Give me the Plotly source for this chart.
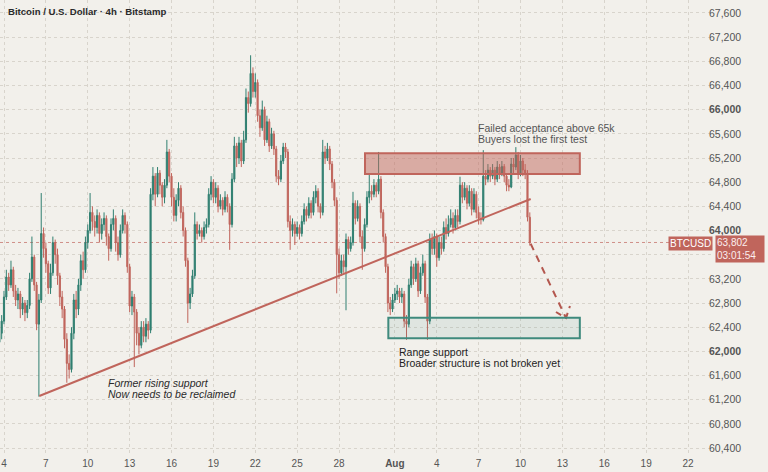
import pandas as pd
import plotly.graph_objects as go

# ---------------- data ----------------
start_time = "2024-07-03 16:00"   # first 4h candle

opens = [62150, 62300, 62500, 62900, 63230, 63100, 63350, 63000, 62850, 62950,
         62700, 62800, 62640, 62760, 63200, 63560, 63100, 62450, 62850, 63950,
         63700, 63450, 63050, 63300, 63800, 63600, 63250, 62900, 62700, 62200,
         61800, 61700, 62300, 62850, 62700, 63100, 63500, 63350, 63800, 64000,
         64300, 64150, 64050, 64250, 63950, 64100, 64200, 63900, 63700, 64100,
         64200, 63800, 63600, 64000, 64250, 64100, 63400, 62750, 62900, 62650,
         62300, 62100, 62400, 62250, 62450, 62350, 64600, 64900, 64600, 64950,
         64750, 64550, 64750, 65300, 64900, 64550, 64250, 64500, 64700, 64300,
         64000, 63500, 62800, 62950, 63250, 64100, 63950, 64000, 63900, 64050,
         64100, 64600, 64800, 64550, 64700, 64400, 64500, 64350, 64550, 64400,
         64100, 64850, 65400, 65200, 65450, 65150, 65500, 66200, 66100, 66600,
         66300, 66450, 65900, 65700, 66000, 65500, 65800, 65400, 65600, 65350,
         64900, 64850, 65150, 65380, 65300, 64150, 64000, 64100, 63950, 64050,
         63950, 64150, 64350, 64250, 64450, 64300, 64550, 64650, 64400, 64300,
         65300, 65200, 65350, 65100, 64800, 64500, 63600, 63300, 63500, 63400,
         63850, 63700, 63800, 64450, 64200, 64400, 63900, 63700, 64100, 64550,
         64650, 64600, 64750, 64650, 64850, 64300, 63900, 63400, 62800, 62700,
         62850, 62950, 63000, 62900, 62950, 62500, 62450, 63100, 63400, 63200,
         63450, 63000, 63300, 63450, 62900, 62500, 63850, 63700, 63900, 63550,
         63800, 63700, 64050, 63950, 64100, 64200, 64050, 64250, 64150, 64750,
         64550, 64700, 64450, 64650, 64350, 64600, 64300, 64200, 64180, 64900,
         64850, 65000, 64900, 65000, 64850, 65050, 64950, 65060, 64900, 64750,
         64720, 65100, 65050, 65250, 64950, 65150, 65000, 64950, 64220]

closes = [62300, 62500, 62900, 63230, 63100, 63350, 63000, 62850, 62950, 62700,
          62800, 62640, 62760, 63200, 63560, 63100, 62450, 62850, 63950, 63700,
          63450, 63050, 63300, 63800, 63600, 63250, 62900, 62700, 62200, 61800,
          61700, 62300, 62850, 62700, 63100, 63500, 63350, 63800, 64000, 64300,
          64150, 64050, 64250, 63950, 64100, 64200, 63900, 63700, 64100, 64200,
          63800, 63600, 64000, 64250, 64100, 63400, 62750, 62900, 62650, 62300,
          62100, 62400, 62250, 62450, 62350, 64600, 64900, 64600, 64950, 64750,
          64550, 64750, 65300, 64900, 64550, 64250, 64500, 64700, 64300, 64000,
          63500, 62800, 62950, 63250, 64100, 63950, 64000, 63900, 64050, 64100,
          64600, 64800, 64550, 64700, 64400, 64500, 64350, 64550, 64400, 64100,
          64850, 65400, 65200, 65450, 65150, 65500, 66200, 66100, 66600, 66300,
          66450, 65900, 65700, 66000, 65500, 65800, 65400, 65600, 65350, 64900,
          64850, 65150, 65380, 65300, 64150, 64000, 64100, 63950, 64050, 63950,
          64150, 64350, 64250, 64450, 64300, 64550, 64650, 64400, 64300, 65300,
          65200, 65350, 65100, 64800, 64500, 63600, 63300, 63500, 63400, 63850,
          63700, 63800, 64450, 64200, 64400, 63900, 63700, 64100, 64550, 64650,
          64600, 64750, 64650, 64850, 64300, 63900, 63400, 62800, 62700, 62850,
          62950, 63000, 62900, 62950, 62500, 62450, 63100, 63400, 63200, 63450,
          63000, 63300, 63450, 62900, 62500, 63850, 63700, 63900, 63550, 63800,
          63700, 64050, 63950, 64100, 64200, 64050, 64250, 64150, 64750, 64550,
          64700, 64450, 64650, 64350, 64600, 64300, 64200, 64180, 64900, 64850,
          65000, 64900, 65000, 64850, 65050, 64950, 65060, 64900, 64750, 64720,
          65100, 65050, 65250, 64950, 65150, 65000, 64950, 64220, 63802]

highs = [62450, 62600, 63000, 63350, 63300, 63500, 63400, 63100, 63050, 63000,
         62900, 62850, 62850, 63300, 63900, 63600, 63150, 62950, 64620, 64050,
         63800, 63500, 63450, 63900, 63850, 63700, 63300, 63000, 62750, 62300,
         61950, 62400, 62950, 63000, 63200, 63600, 63650, 63900, 64100, 64620,
         64400, 64250, 64350, 64300, 64200, 64300, 64250, 63950, 64200, 64350,
         64250, 63900, 64100, 64350, 64300, 64150, 63450, 63000, 62950, 62700,
         62400, 62500, 62500, 62550, 62500, 64700, 65050, 64950, 65050, 65000,
         64800, 64850, 65500, 65350, 64950, 64700, 64600, 64800, 64750, 64400,
         64050, 63550, 63050, 63350, 64300, 64150, 64100, 64050, 64150, 64200,
         64700, 64900, 64850, 64800, 64750, 64600, 64550, 64650, 64600, 64450,
         64950, 65550, 65450, 65550, 65500, 65650, 66350, 66300, 66900, 66700,
         66600, 66500, 66000, 66150, 66050, 65900, 65850, 65700, 65650, 65400,
         65000, 65250, 65450, 65450, 65350, 64250, 64200, 64150, 64150, 64100,
         64250, 64450, 64400, 64550, 64500, 64650, 64750, 64700, 64450, 65500,
         65400, 65450, 65400, 65150, 64850, 64550, 63700, 63600, 63600, 63950,
         63900, 63900, 64640, 64500, 64500, 64450, 64000, 64200, 64650, 64950,
         64750, 64850, 64800, 65300, 64900, 64350, 63950, 63450, 62900, 62950,
         63050, 63100, 63050, 63050, 63000, 62600, 63200, 63500, 63450, 63550,
         63500, 63400, 63600, 63500, 62950, 63950, 63950, 64000, 63950, 63900,
         63900, 64150, 64200, 64250, 64350, 64300, 64350, 64350, 64890, 64800,
         64800, 64750, 64750, 64700, 64700, 64650, 64400, 64300, 65330, 65000,
         65100, 65050, 65100, 65050, 65150, 65100, 65150, 65100, 64950, 64850,
         65200, 65200, 65380, 65300, 65250, 65200, 65100, 65000, 64300]

lows = [61950, 62200, 62450, 62850, 63000, 63050, 62900, 62750, 62700, 62550,
        62600, 62500, 62550, 62700, 63150, 63000, 62350, 61250, 62800, 63550,
        63300, 62950, 62950, 63250, 63450, 63100, 62750, 62550, 62050, 61480,
        61550, 61650, 62200, 62550, 62600, 63000, 63200, 63300, 63700, 63950,
        64000, 63900, 63950, 63800, 63850, 64000, 63750, 63500, 63650, 64000,
        63650, 63500, 63550, 63950, 63950, 63300, 62650, 62600, 61740, 62100,
        61950, 62050, 62150, 62150, 62200, 62300, 64500, 64400, 64550, 64600,
        64400, 64450, 64700, 64800, 64400, 64150, 64150, 64400, 64200, 63900,
        63400, 62470, 62700, 62900, 63200, 63850, 63900, 63800, 63850, 63950,
        64050, 64500, 64450, 64450, 64300, 64350, 64250, 64300, 64300, 63680,
        64050, 64800, 65050, 65100, 65050, 65100, 65450, 65950, 66050, 66200,
        66200, 65800, 65550, 65650, 65400, 65450, 65300, 65350, 65250, 64800,
        64750, 64800, 65100, 65200, 64050, 63680, 63900, 63760, 63900, 63850,
        63900, 64100, 64150, 64200, 64200, 64250, 64450, 64300, 64200, 64250,
        65100, 65150, 65000, 64700, 64400, 62960, 63200, 63250, 63300, 62680,
        63600, 63650, 63750, 64100, 64150, 63800, 63350, 63650, 64050, 64450,
        64500, 64550, 64550, 64600, 64200, 63800, 63300, 62650, 62600, 62650,
        62800, 62850, 62800, 62800, 62400, 62190, 62400, 63050, 63100, 63150,
        62900, 62950, 63250, 62800, 62190, 62450, 63600, 63600, 63400, 63500,
        63600, 63650, 63850, 63900, 64050, 63950, 64000, 64050, 64100, 64450,
        64500, 64350, 64400, 64250, 64300, 64200, 64100, 64100, 64150, 64750,
        64800, 64800, 64850, 64750, 64800, 64850, 64900, 64800, 64650, 64650,
        64700, 64950, 65000, 64850, 64900, 64900, 64850, 64150, 63750]

last_price = 63802
last_price_label = "63,802"
countdown_label = "03:01:54"
symbol_label = "BTCUSD"

# zones
resistance_dates = ["2024-07-29 20:40", "2024-08-14 06:00"]
resistance_prices = [64935, 65278]
support_dates = ["2024-07-31 12:45", "2024-08-14 06:00"]
support_prices = [62216, 62557]

# broken trend line
trend_dates = ["2024-07-06 12:40", "2024-08-10 17:30"]
trend_prices = [61261, 64522]

# projected path (dashed) and its arrow head
path_dates = ["2024-08-10 17:30", "2024-08-13 06:15"]
path_prices = [63780, 62552]
head_dates = ["2024-08-12 13:00", "2024-08-13 06:15", "2024-08-13 13:00"]
head_prices = [62651, 62552, 62750]

# axis ticks
y_ticks = [60400, 60800, 61200, 61600, 62000, 62400, 62800, 63200, 63600,
           64000, 64400, 64800, 65200, 65600, 66000, 66400, 66800, 67200, 67600]
y_bold = [62000, 64000, 66000]
y_hidden = [63600]   # covered by the last-price label in the reference
x_tick_dates = ["2024-07-04", "2024-07-07", "2024-07-10", "2024-07-13", "2024-07-16",
                "2024-07-19", "2024-07-22", "2024-07-25", "2024-07-28", "2024-08-01",
                "2024-08-04", "2024-08-07", "2024-08-10", "2024-08-13", "2024-08-16",
                "2024-08-19", "2024-08-22"]
x_tick_text = ["4", "7", "10", "13", "16", "19", "22", "25", "28", "<b>Aug</b>",
               "4", "7", "10", "13", "16", "19", "22"]

title_text = "Bitcoin / U.S. Dollar · 4h · Bitstamp"
notes = [
    ("2024-08-06 21:10", 65700, "Failed acceptance above 65k", "#555555", False),
    ("2024-08-06 21:10", 65520, "Buyers lost the first test", "#555555", False),
    ("2024-08-01 05:20", 61995, "Range support", "#222222", False),
    ("2024-08-01 05:20", 61815, "Broader structure is not broken yet", "#222222", False),
    ("2024-07-11 09:00", 61482, "Former rising support", "#2a2a2a", True),
    ("2024-07-11 09:00", 61302, "Now needs to be reclaimed", "#2a2a2a", True),
]

# ---------------- styling ----------------
UP = "#2f7f70"
DOWN = "#c0655c"
BG = "#f2f0eb"
GRID = "#d8d4cc"
FONT = "Liberation Sans"

times = pd.date_range(start=start_time, periods=len(closes), freq="4h")

fig = go.Figure()
fig.add_trace(go.Candlestick(
    x=times, open=opens, high=highs, low=lows, close=closes,
    increasing=dict(line=dict(color=UP, width=1), fillcolor=UP),
    decreasing=dict(line=dict(color=DOWN, width=1), fillcolor=DOWN),
    whiskerwidth=0, showlegend=False, hoverinfo="skip",
))

# zones
fig.add_shape(type="rect", xref="x", yref="y",
              x0=resistance_dates[0], x1=resistance_dates[1],
              y0=resistance_prices[0], y1=resistance_prices[1],
              line=dict(color=DOWN, width=2), fillcolor="rgba(192,101,92,0.50)",
              layer="above")
fig.add_shape(type="rect", xref="x", yref="y",
              x0=support_dates[0], x1=support_dates[1],
              y0=support_prices[0], y1=support_prices[1],
              line=dict(color="#3f8a7d", width=2), fillcolor="rgba(63,138,125,0.10)",
              layer="above")

# last price dotted line
fig.add_shape(type="line", xref="paper", yref="y", x0=0, x1=1,
              y0=last_price, y1=last_price,
              line=dict(color="rgba(192,101,92,0.7)", width=1, dash="dot"),
              layer="below")

# trend line
fig.add_trace(go.Scatter(x=trend_dates, y=trend_prices, mode="lines",
                         line=dict(color=DOWN, width=2), showlegend=False,
                         hoverinfo="skip"))
# projection
fig.add_trace(go.Scatter(x=path_dates, y=path_prices, mode="lines",
                         line=dict(color="#b4574e", width=2, dash="7px,6px"),
                         showlegend=False, hoverinfo="skip"))
fig.add_trace(go.Scatter(x=head_dates, y=head_prices, mode="lines",
                         line=dict(color="#b4574e", width=2, dash="6px,5px"),
                         showlegend=False, hoverinfo="skip"))

# text notes
for xd, yp, txt, col, ital in notes:
    fig.add_annotation(x=xd, y=yp, xref="x", yref="y", text=f"<i>{txt}</i>" if ital else txt,
                       showarrow=False, xanchor="left", yanchor="middle", borderpad=0,
                       font=dict(family=FONT, size=10.5, color=col))

# title
fig.add_annotation(x=6 / 714, y=1 - 12 / 454, xref="paper", yref="paper",
                   text=title_text, showarrow=False, xanchor="left", yanchor="middle",
                   font=dict(family=FONT, size=9.6, color="#2a2a2a", weight="bold"))

# symbol & price labels
fig.add_annotation(x=713 / 714, y=last_price, xref="paper", yref="y",
                   text=symbol_label, showarrow=False, xanchor="right", yanchor="middle",
                   bgcolor="#c0655c", borderpad=1, yshift=-1,
                   font=dict(family=FONT, size=10, color="white"))
fig.add_annotation(x=715 / 714, y=last_price, xref="paper", yref="y",
                   text=f"{last_price_label}<br>{countdown_label}", showarrow=False,
                   xanchor="left", yanchor="top", align="left", width=46,
                   bgcolor="#c0655c", borderpad=1, yshift=7,
                   font=dict(family=FONT, size=10, color="#fbeeee"))

y_text = []
for v in y_ticks:
    if v in y_hidden:
        y_text.append("")
    elif v in y_bold:
        y_text.append(f"<b>{v:,}</b>")
    else:
        y_text.append(f"{v:,}")

fig.update_layout(
    width=768, height=472,
    margin=dict(l=0, r=54, t=0, b=18),
    paper_bgcolor=BG, plot_bgcolor=BG,
    font=dict(family=FONT, size=10, color="#555555"),
    showlegend=False,
    xaxis=dict(
        range=["2024-07-03 17:07", "2024-08-23 20:40"],
        rangeslider=dict(visible=False),
        tickvals=x_tick_dates, ticktext=x_tick_text,
        showgrid=True, gridcolor=GRID, griddash="dot", gridwidth=1,
        zeroline=False, showline=False, ticks="",
        ticklabelstandoff=2,
        tickfont=dict(family=FONT, size=10, color="#555555"),
        fixedrange=True,
    ),
    yaxis=dict(
        side="right",
        range=[60301, 67815],
        tickvals=y_ticks, ticktext=y_text,
        showgrid=True, gridcolor=GRID, griddash="dot", gridwidth=1,
        zeroline=False, showline=False, ticks="",
        ticklabelstandoff=-6,
        tickfont=dict(family=FONT, size=10.5, color="#555555"),
        fixedrange=True,
    ),
)

fig.write_html(
    "out.html",
    config={"displayModeBar": False},
    post_script="document.body.style.margin='0';document.body.style.overflow='hidden';"
                "document.body.style.background='" + BG + "';",
)
